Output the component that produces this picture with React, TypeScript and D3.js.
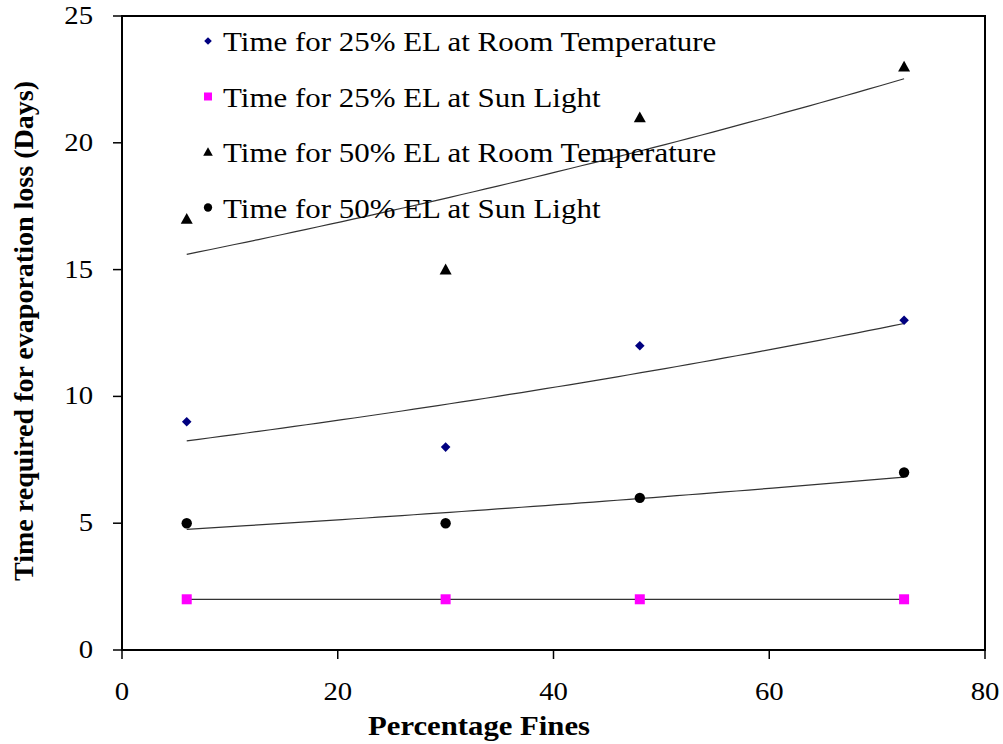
import React from "react";
import * as d3 from "d3";

const xValues = [6, 30, 48, 72.5];
const seriesNames = [
  "Time for 25% EL at Room Temperature",
  "Time for 25% EL at Sun Light",
  "Time for 50% EL at Room Temperature",
  "Time for 50% EL at Sun Light",
];
const el25Room = [9, 8, 12, 13];
const el25Sun = [2, 2, 2, 2];
const el50Room = [17, 15, 21, 23];
const el50Sun = [5, 5, 6, 7];
const xTicks = [0, 20, 40, 60, 80];
const yTicks = [0, 5, 10, 15, 20, 25];

const W = 1003, H = 744;
const M = { left: 122, right: 985, top: 16, bottom: 650 };

function expFit(xs: number[], ys: number[]) {
  const ly = ys.map(Math.log);
  const mx = d3.mean(xs)!, my = d3.mean(ly)!;
  let sxy = 0, sxx = 0;
  xs.forEach((x, i) => { sxy += (x - mx) * (ly[i] - my); sxx += (x - mx) * (x - mx); });
  const b = sxy / sxx;
  const a = my - b * mx;
  return (x: number) => Math.exp(a + b * x);
}

const FONT = "'Liberation Serif'";

export default function App() {
  const x = d3.scaleLinear().domain([0, 80]).range([M.left, M.right]);
  const y = d3.scaleLinear().domain([0, 25]).range([M.bottom, M.top]);
  const series = [
    { name: seriesNames[0], values: el25Room, shape: "diamond", color: "#000080" },
    { name: seriesNames[1], values: el25Sun, shape: "square", color: "#FF00FF" },
    { name: seriesNames[2], values: el50Room, shape: "triangle", color: "#000000" },
    { name: seriesNames[3], values: el50Sun, shape: "circle", color: "#000000" },
  ];
  const marker = (shape: string, cx: number, cy: number, color: string, s = 1, key?: any) => {
    if (shape === "diamond") {
      const r = 4.8 * s;
      return <path key={key} d={`M${cx},${cy - r}L${cx + r},${cy}L${cx},${cy + r}L${cx - r},${cy}Z`} fill={color} />;
    }
    if (shape === "square") {
      const r = 5 * s;
      return <rect key={key} x={cx - r} y={cy - r} width={2 * r} height={2 * r} fill={color} />;
    }
    if (shape === "triangle") {
      const r = 6 * s;
      return <path key={key} d={`M${cx},${cy - r}L${cx + r},${cy + r * 0.8}L${cx - r},${cy + r * 0.8}Z`} fill={color} />;
    }
    return <circle key={key} cx={cx} cy={cy} r={5.2 * s} fill={color} />;
  };
  const x0 = d3.min(xValues)!, x1 = d3.max(xValues)!;
  const samples = d3.range(0, 61).map((i) => x0 + ((x1 - x0) * i) / 60);
  const line = d3.line<[number, number]>().x((d) => x(d[0])).y((d) => y(d[1]));
  const legendY = [41, 96.5, 152, 207.5];
  const ts = { fontFamily: FONT };
  return (
    <svg width={W} height={H} style={{ position: "absolute", left: 0, top: 0, background: "#fff" }}>
      <rect width={W} height={H} fill="#fff" />
      {series.map((s, i) => {
        const f = expFit(xValues, s.values);
        return <path key={"t" + i} d={line(samples.map((v) => [v, f(v)]))!} fill="none" stroke="#333" strokeWidth={1.2} />;
      })}
      {series.map((s, i) => (
        <g key={"s" + i}>{s.values.map((v, j) => marker(s.shape, x(xValues[j]), y(v), s.color, 1, j))}</g>
      ))}
      <rect x={M.left} y={M.top} width={M.right - M.left} height={M.bottom - M.top} fill="none" stroke="#000" strokeWidth={2} />
      {yTicks.map((t) => (
        <g key={"y" + t}>
          <line x1={M.left - 9} x2={M.left} y1={y(t)} y2={y(t)} stroke="#000" strokeWidth={1.5} />
          <text transform={`translate(93,${y(t) + 8}) scale(1.15,1)`} textAnchor="end" fontSize={25} style={ts}>{t}</text>
        </g>
      ))}
      {xTicks.map((t) => (
        <g key={"x" + t}>
          <line x1={x(t)} x2={x(t)} y1={M.bottom} y2={M.bottom + 9} stroke="#000" strokeWidth={1.5} />
          <text transform={`translate(${x(t)},700) scale(1.15,1)`} textAnchor="middle" fontSize={25} style={ts}>{t}</text>
        </g>
      ))}
      <text x={479} y={735} textAnchor="middle" fontSize={27} fontWeight="bold" style={ts}
        textLength={222} lengthAdjust="spacingAndGlyphs">Percentage Fines</text>
      <text transform={`translate(33,331) rotate(-90)`} textAnchor="middle" fontSize={27} fontWeight="bold" style={ts}
        textLength={500} lengthAdjust="spacingAndGlyphs">
        Time required for evaporation loss (Days)
      </text>
      {series.map((s, i) => (
        <g key={"l" + i}>
          {marker(s.shape, 208, legendY[i], s.color, 0.8)}
          <text transform={`translate(223,${legendY[i] + 10}) scale(1.105,1)`} fontSize={28} style={ts}>{s.name}</text>
        </g>
      ))}
    </svg>
  );
}
